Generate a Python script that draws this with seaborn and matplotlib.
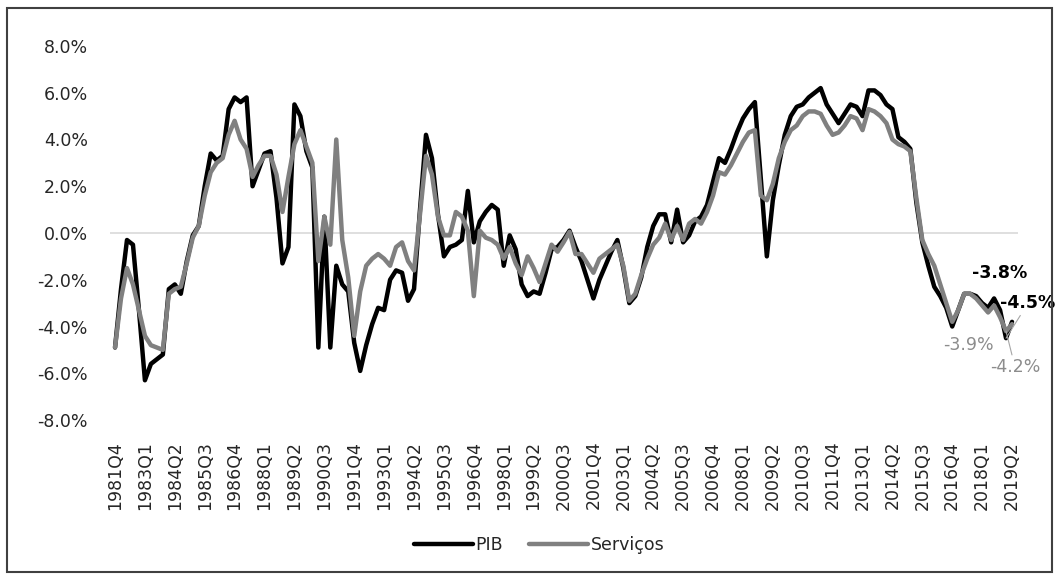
import matplotlib
matplotlib.use("Agg")
import matplotlib.pyplot as plt
from matplotlib.patches import Rectangle
import pandas as pd
import seaborn as sns

# Quarterly series, 1981Q4 .. 2019Q2 (year-on-year change, %)
start_year, start_quarter = 1981, 4

pib = [
    -4.9, -2.4, -0.3, -0.5, -3.3, -6.3, -5.6, -5.4, -5.2, -2.4,
    -2.2, -2.6, -1.2, -0.1, 0.3, 2.0, 3.4, 3.1, 3.3, 5.3,
    5.8, 5.6, 5.8, 2.0, 2.7, 3.4, 3.5, 1.5, -1.3, -0.6,
    5.5, 5.0, 3.5, 2.8, -4.9, 0.7, -4.9, -1.4, -2.2, -2.5,
    -4.7, -5.9, -4.8, -3.9, -3.2, -3.3, -2.0, -1.6, -1.7, -2.9,
    -2.4, 1.0, 4.2, 3.2, 0.8, -1.0, -0.6, -0.5, -0.3, 1.8,
    -0.4, 0.5, 0.9, 1.2, 1.0, -1.4, -0.1, -0.7, -2.2, -2.7,
    -2.5, -2.6, -1.7, -0.7, -0.6, -0.3, 0.1, -0.6, -1.2, -2.0,
    -2.8, -2.0, -1.4, -0.8, -0.3, -1.5, -3.0, -2.7, -1.9, -0.6,
    0.3, 0.8, 0.8, -0.4, 1.0, -0.4, -0.1, 0.5, 0.7, 1.2,
    2.2, 3.2, 3.0, 3.6, 4.3, 4.9, 5.3, 5.6, 2.3, -1.0,
    1.4, 2.9, 4.2, 5.0, 5.4, 5.5, 5.8, 6.0, 6.2, 5.5,
    5.1, 4.7, 5.1, 5.5, 5.4, 5.0, 6.1, 6.1, 5.9, 5.5,
    5.3, 4.1, 3.9, 3.6, 1.3, -0.4, -1.4, -2.3, -2.7, -3.2,
    -4.0, -3.3, -2.6, -2.6, -2.7, -3.0, -3.2, -2.8, -3.3, -4.5,
    -3.8,
]

servicos = [
    -4.9, -2.8, -1.5, -2.2, -3.3, -4.4, -4.8, -4.9, -5.0, -2.6,
    -2.4, -2.3, -1.3, -0.2, 0.3, 1.6, 2.6, 3.0, 3.2, 4.2,
    4.8, 4.0, 3.6, 2.4, 2.9, 3.3, 3.3, 2.5, 0.9, 2.4,
    3.8, 4.4, 3.7, 3.0, -1.2, 0.7, -0.5, 4.0, -0.3, -1.9,
    -4.4, -2.5, -1.4, -1.1, -0.9, -1.1, -1.4, -0.6, -0.4, -1.2,
    -1.6, 0.8, 3.3, 2.5, 0.7, -0.1, -0.1, 0.9, 0.7, 0.1,
    -2.7, 0.1, -0.2, -0.3, -0.5, -1.1, -0.6, -1.3, -1.8, -1.0,
    -1.5, -2.1, -1.3, -0.5, -0.8, -0.4, 0.05, -0.9, -0.9, -1.3,
    -1.7, -1.1, -0.9, -0.7, -0.5, -1.4, -2.9, -2.6, -1.8, -1.1,
    -0.5, -0.2, 0.4, -0.3, 0.3, -0.3, 0.4, 0.6, 0.4, 0.9,
    1.6, 2.6, 2.5, 2.9, 3.4, 3.9, 4.3, 4.4, 1.6, 1.4,
    2.1, 3.2, 3.9, 4.4, 4.6, 5.0, 5.2, 5.2, 5.1, 4.6,
    4.2, 4.3, 4.6, 5.0, 4.9, 4.4, 5.3, 5.2, 5.0, 4.7,
    4.0, 3.8, 3.7, 3.5, 1.5, -0.3, -0.9, -1.4, -2.2, -3.0,
    -3.8, -3.3, -2.6, -2.6, -2.8, -3.1, -3.4, -3.1, -3.6, -4.2,
    -3.9,
]

series_names = ["PIB", "Serviços"]
series_colors = ["#000000", "#808080"]
y_ticks = [-8, -6, -4, -2, 0, 2, 4, 6, 8]

# Quarter labels
quarters = []
y, q = start_year, start_quarter
for _ in range(len(pib)):
    quarters.append(f"{y}Q{q}")
    q += 1
    if q > 4:
        q, y = 1, y + 1

n = len(pib)
df = pd.DataFrame({
    "idx": list(range(n)) * 2,
    "valor": pib + servicos,
    "serie": [series_names[0]] * n + [series_names[1]] * n,
})

sns.set_style("white")
plt.rcParams["font.family"] = ["DejaVu Sans"]
FS = 12.5

fig = plt.figure(figsize=(10.59, 5.79), dpi=100)
ax = fig.add_axes([110 / 1059, 1 - 420 / 579, 908 / 1059, 374 / 579])

ax.axhline(0, color="#d9d9d9", lw=1.2, zorder=1)

sns.lineplot(data=df, x="idx", y="valor", hue="serie", hue_order=series_names,
             palette=series_colors, linewidth=3.2, ax=ax, legend=True,
             zorder=3)

ax.set_xlim(-0.84, 151.0)
ax.set_ylim(-8, 8)
ax.set_yticks(y_ticks)
ax.set_yticklabels([f"{v:.1f}%" for v in y_ticks], fontsize=FS)
tick_idx = list(range(0, n, 5))
ax.set_xticks(tick_idx)
ax.set_xticklabels([quarters[i] for i in tick_idx], rotation=90, fontsize=FS,
                   va="top", ha="center")
ax.tick_params(axis="x", length=0, pad=15)
ax.tick_params(axis="y", length=0, pad=16)
ax.set_xlabel("")
ax.set_ylabel("")
for s in ax.spines.values():
    s.set_visible(False)

# Legend below the axis labels
handles, labels = ax.get_legend_handles_labels()
leg = ax.legend(handles, labels, loc="center",
                bbox_to_anchor=(539 / 1059, 1 - 545 / 579),
                bbox_transform=fig.transFigure, ncol=2, frameon=False,
                fontsize=FS, handlelength=3.4, handletextpad=0.15,
                columnspacing=1.5)
for line in leg.get_lines():
    line.set_linewidth(3.2)

# Data labels for the last two quarters
last = n - 1
leader = dict(arrowstyle="-", color="#a6a6a6", lw=0.8, shrinkA=0, shrinkB=0)
ax.annotate(f"{pib[last]:.1f}%", xy=(last, pib[last]), xytext=(-12, 49),
            textcoords="offset pixels", ha="center", va="center",
            fontsize=FS, fontweight="bold", color="#000000", zorder=5)
ax.annotate(f"{pib[last - 1]:.1f}%", xy=(last - 1, pib[last - 1]),
            xytext=(22, 35), textcoords="offset pixels", ha="center",
            va="center", fontsize=FS, fontweight="bold", color="#000000",
            arrowprops=leader, zorder=5)
ax.annotate(f"{servicos[last]:.1f}%", xy=(last, servicos[last]),
            xytext=(-44, -21), textcoords="offset pixels", ha="center",
            va="center", fontsize=FS, color="#8c8c8c", zorder=5)
ax.annotate(f"{servicos[last - 1]:.1f}%", xy=(last - 1, servicos[last - 1]),
            xytext=(9, -36), textcoords="offset pixels", ha="center",
            va="center", fontsize=FS, color="#8c8c8c", arrowprops=leader,
            zorder=5)

# Chart-area frame
fig.patches.append(Rectangle((7 / 1059, 1 - 572 / 579), 1045 / 1059,
                             564 / 579, transform=fig.transFigure,
                             fill=False, ec="#404040", lw=1.5))

fig.savefig("out.png", dpi=100, facecolor="white")
